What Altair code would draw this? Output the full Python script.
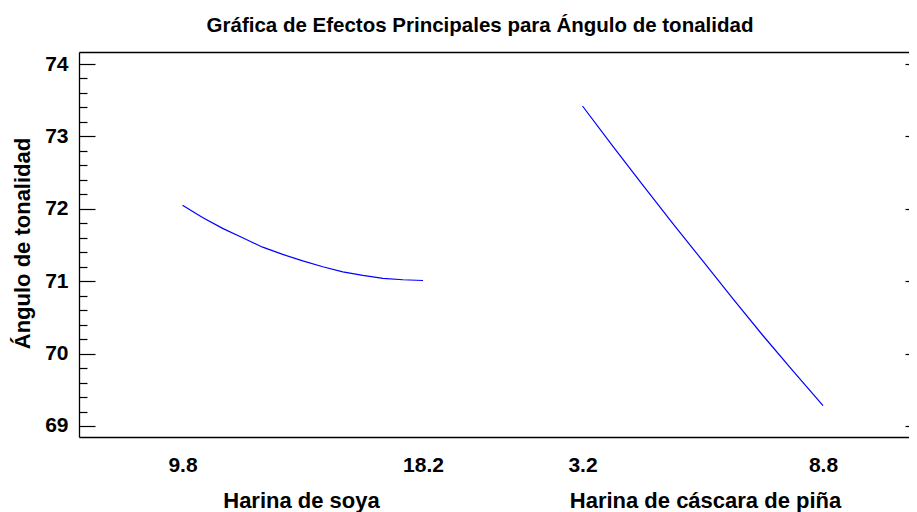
import altair as alt
import pandas as pd

# ---- data ----
soya_levels = [9.8, 10.5, 11.2, 11.9, 12.6, 13.3, 14.0, 14.7, 15.4, 16.1, 16.8, 17.5, 18.2]
soya_values = [72.05, 71.88, 71.73, 71.60, 71.47, 71.37, 71.28, 71.20, 71.13, 71.08, 71.04, 71.02, 71.01]
pina_levels = [3.2, 3.9, 4.6, 5.3, 6.0, 6.7, 7.4, 8.1, 8.8]
pina_values = [73.42, 72.87, 72.33, 71.80, 71.28, 70.76, 70.25, 69.76, 69.28]

soya_ticks = [9.8, 18.2]
pina_ticks = [3.2, 8.8]
y_major = [69, 70, 71, 72, 73, 74]
y_minor = [69.2, 69.4, 69.6, 69.8, 70.2, 70.4, 70.6, 70.8, 71.2, 71.4, 71.6, 71.8,
           72.2, 72.4, 72.6, 72.8, 73.2, 73.4, 73.6, 73.8]

title_text = "Gráfica de Efectos Principales para Ángulo de tonalidad"
y_title = "Ángulo de tonalidad"
soya_title = "Harina de soya"
pina_title = "Harina de cáscara de piña"

FONT = "Liberation Sans"
W, H = 830, 385

soya = pd.DataFrame({"level": soya_levels, "value": soya_values})
pina = pd.DataFrame({"level": pina_levels, "value": pina_values})

yscale = alt.Scale(domain=[68.848, 74.166], nice=False, zero=False)
xs_scale = alt.Scale(domain=[6.185, 35.175], nice=False, zero=False)
xp_scale = alt.Scale(domain=[-8.523, 10.802], nice=False, zero=False)

xlab = dict(grid=False, ticks=False, tickSize=0, labelFont=FONT, labelFontSize=21,
            labelFontWeight="bold", labelColor="black", labelBaseline="alphabetic",
            labelPadding=34, labelFlush=False, labelOverlap=False,
            titleFont=FONT, titleFontSize=22, titleFontWeight="bold", titleColor="black",
            titleBaseline="alphabetic", titleY=70, titleAlign="center")

line_color = "#0000ff"

l1 = alt.Chart(soya).mark_line(color=line_color, strokeWidth=1.2).encode(
    x=alt.X("level:Q", scale=xs_scale,
            axis=alt.Axis(orient="bottom", values=soya_ticks, format=".1f", domain=True,
                          domainColor="black", domainWidth=1.3, title=soya_title,
                          titleX=222, **xlab)),
    y=alt.Y("value:Q", scale=yscale,
            axis=alt.Axis(orient="left", values=y_major, format="d", domain=True,
                          domainColor="black", domainWidth=1.3, ticks=False, tickSize=0,
                          grid=False, labelPadding=11, labelFont=FONT, labelFontSize=21,
                          labelFontWeight="bold", labelColor="black", labelFlush=False,
                          labelOverlap=False,
                          title=y_title, titleFont=FONT, titleFontSize=22,
                          titleFontWeight="bold", titleColor="black", titleX=-50, titleY=191,
                          titleAngle=270, titleBaseline="alphabetic", titleAlign="center")),
)

l2 = alt.Chart(pina).mark_line(color=line_color, strokeWidth=1.2).encode(
    x=alt.X("level:Q", scale=xp_scale,
            axis=alt.Axis(orient="bottom", values=pina_ticks, format=".1f", domain=False,
                          title=pina_title, titleX=626, **xlab)),
    y=alt.Y("value:Q", scale=yscale,
            axis=alt.Axis(orient="right", offset=-W, values=y_major, ticks=True, tickSize=16,
                          tickColor="black", tickWidth=1.2, labels=False, domain=False,
                          grid=False, title=None)),
)

l3 = alt.Chart(soya).mark_line(opacity=0).encode(
    x=alt.X("level:Q", scale=xs_scale,
            axis=alt.Axis(orient="top", domain=True, domainColor="black", domainWidth=1.3,
                          labels=False, ticks=False, grid=False, title=None)),
    y=alt.Y("value:Q", scale=yscale,
            axis=alt.Axis(orient="right", offset=-W, values=y_minor, ticks=True, tickSize=8,
                          tickColor="black", tickWidth=1.2, labels=False, domain=False,
                          grid=False, title=None)),
)

l4 = alt.Chart(soya).mark_line(opacity=0).encode(
    x=alt.X("level:Q", scale=xs_scale, axis=None),
    y=alt.Y("value:Q", scale=yscale,
            axis=alt.Axis(orient="left", offset=-W, values=y_major, ticks=True, tickSize=4,
                          tickColor="black", tickWidth=1.2, labels=False, domain=False,
                          grid=False, title=None)),
)

chart = (
    alt.layer(l1, l2, l3, l4)
    .resolve_scale(x="independent")
    .resolve_axis(x="independent", y="independent")
    .properties(
        width=W, height=H,
        autosize=alt.AutoSizeParams(type="none"),
        padding={"left": 71, "top": 44, "right": 0, "bottom": 75},
        title=alt.TitleParams(text=title_text, font=FONT, fontSize=20.5, fontWeight="bold",
                              color="black", anchor="middle", dx=-14, baseline="alphabetic",
                              offset=0),
    )
    .configure_view(stroke=None)
    .configure_axis(grid=False)
)

chart.save("out.html", embed_options={"renderer": "svg", "actions": False})
